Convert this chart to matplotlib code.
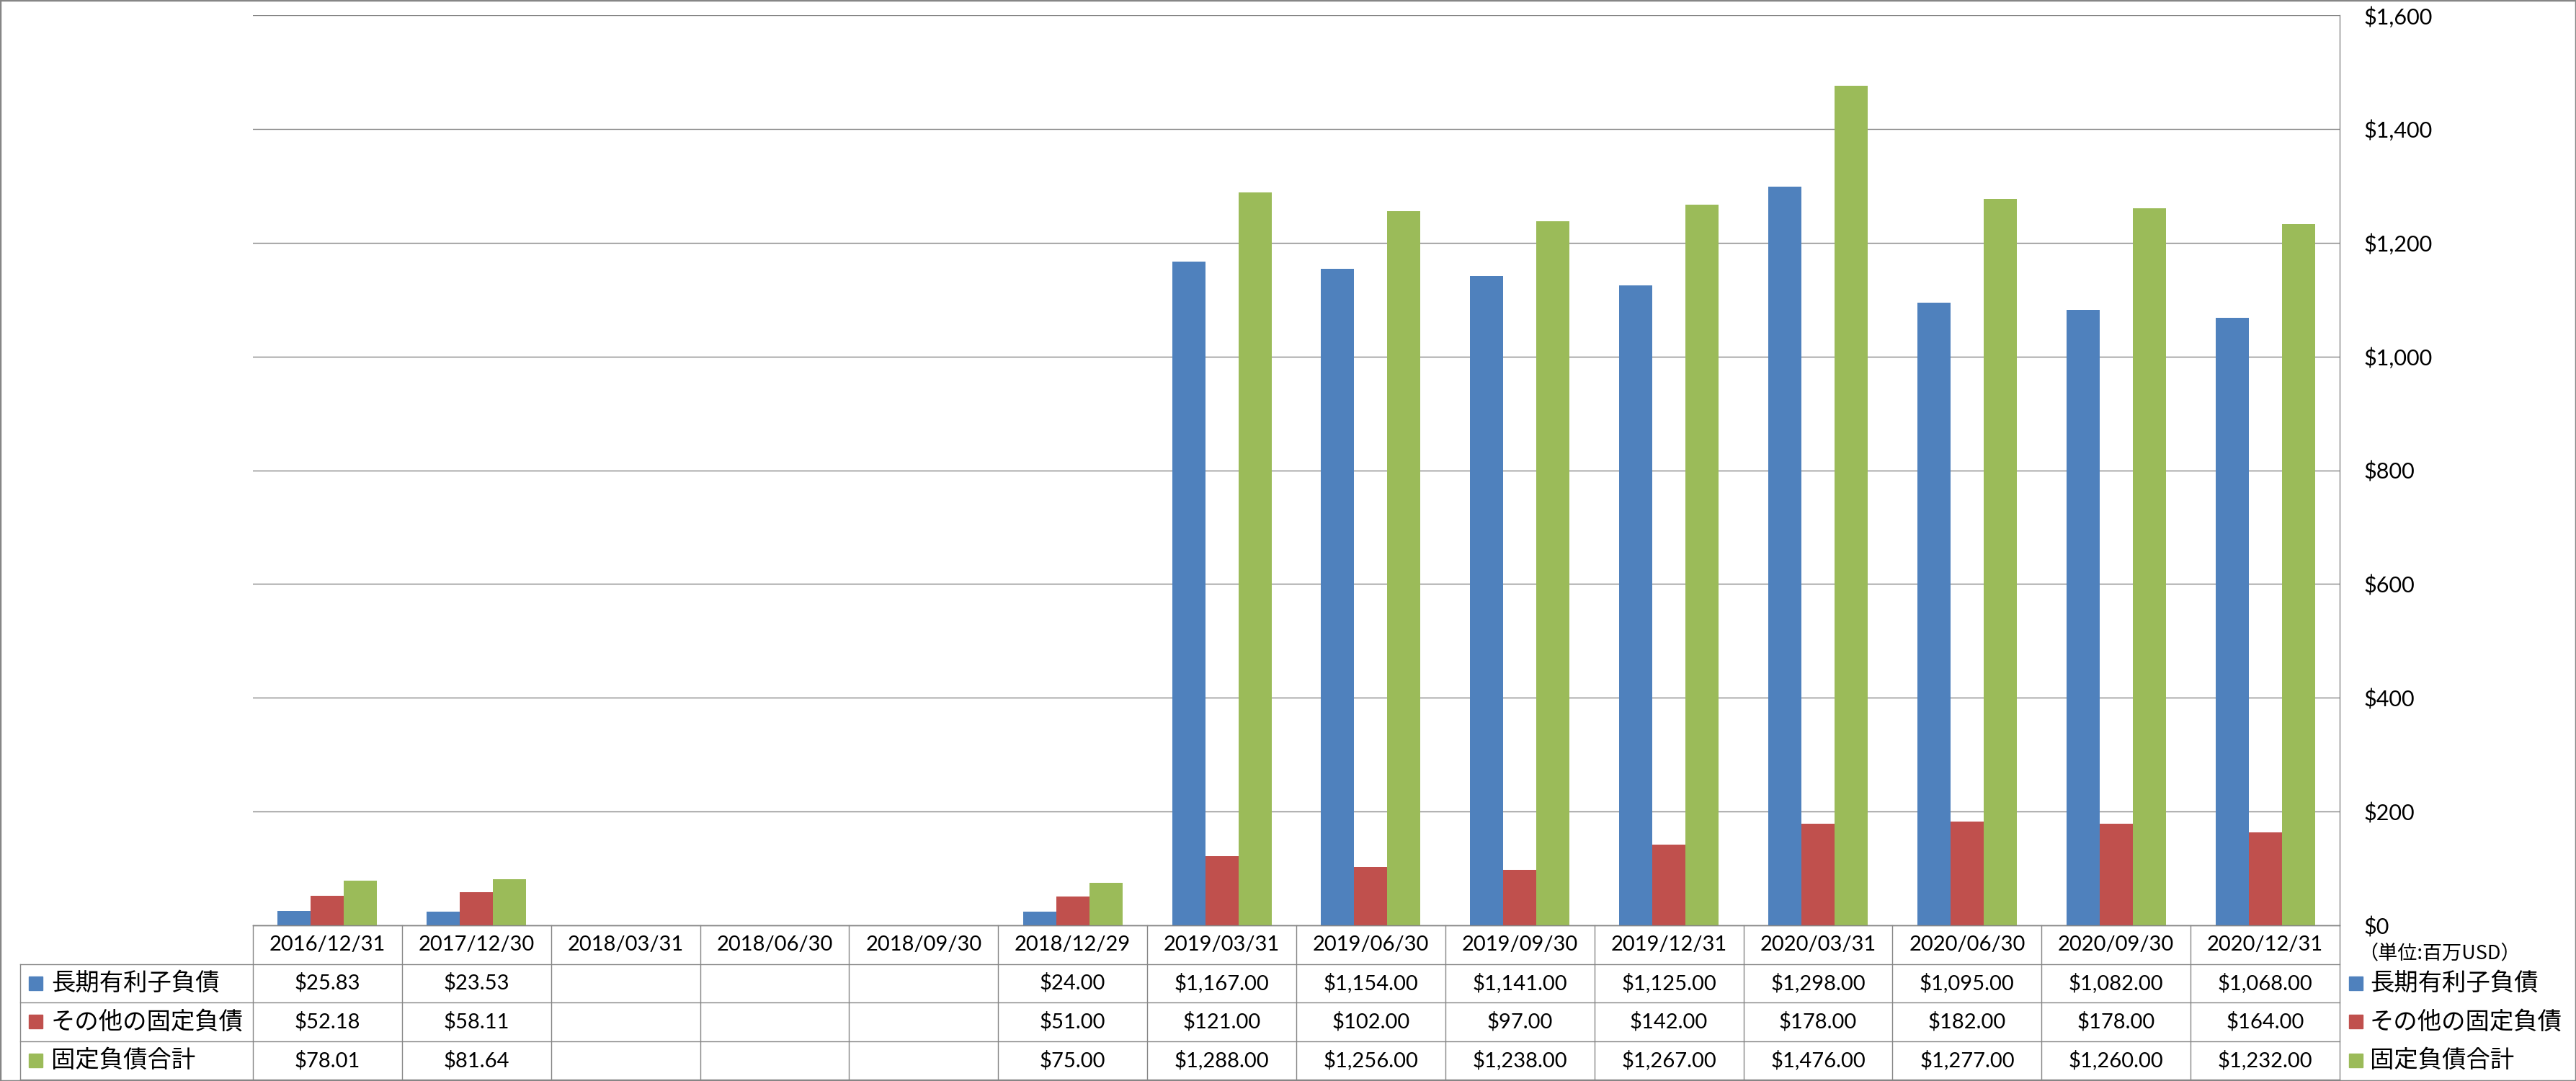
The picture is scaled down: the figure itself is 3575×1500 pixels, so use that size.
#!/usr/bin/env python3

import numpy as np
import matplotlib
matplotlib.use('Agg')
import matplotlib.pyplot as plt
from matplotlib.patches import Rectangle

dates = ['2016/12/31', '2017/12/30', '2018/03/31', '2018/06/30', '2018/09/30',
         '2018/12/29', '2019/03/31', '2019/06/30', '2019/09/30', '2019/12/31',
         '2020/03/31', '2020/06/30', '2020/09/30', '2020/12/31']
nan = np.nan
long_debt = [25.83, 23.53, nan, nan, nan, 24.00, 1167.00, 1154.00, 1141.00,
             1125.00, 1298.00, 1095.00, 1082.00, 1068.00]
other_fixed = [52.18, 58.11, nan, nan, nan, 51.00, 121.00, 102.00, 97.00,
               142.00, 178.00, 182.00, 178.00, 164.00]
total_fixed = [78.01, 81.64, nan, nan, nan, 75.00, 1288.00, 1256.00, 1238.00,
               1267.00, 1476.00, 1277.00, 1260.00, 1232.00]
series_names = ['長期有利子負債', 'その他の固定負債', '固定負債合計']
colors = ['#4F81BD', '#C0504D', '#9BBB59']
yticks = [0, 200, 400, 600, 800, 1000, 1200, 1400, 1600]
unit_label = '（単位:百万USD）'

W, H = 3575, 1500
GRID = '#868686'
JP = ['Noto Sans CJK JP', 'DejaVu Sans']
NUM = ['Lato', 'DejaVu Sans']

fig = plt.figure(figsize=(W / 100, H / 100), dpi=100)

# plot area in pixels
px_l, px_r, px_t, px_b = 351, 3247, 21, 1284
tab_l, tab_b = 28, 1498
ax = fig.add_axes([px_l / W, 1 - px_b / H, (px_r - px_l) / W, (px_b - px_t) / H])

series = [long_debt, other_fixed, total_fixed]
n = len(dates)
x = np.arange(n)
bw = 0.2225
for k, vals in enumerate(series):
    v = np.array(vals, dtype=float)
    m = ~np.isnan(v)
    ax.bar(x[m] + (k - 1) * bw, v[m], width=bw, color=colors[k], zorder=3)

ax.set_xlim(-0.5, n - 0.5)
ax.set_ylim(0, 1600)
ax.set_yticks(yticks)
ax.yaxis.tick_right()
ax.set_yticklabels([f'${t:,.0f}' for t in yticks], fontfamily=NUM, fontsize=22)
ax.tick_params(axis='y', length=0, pad=24)
ax.set_xticks([])
ax.grid(axis='y', color=GRID, linewidth=1.0, zorder=0)
for s in ['top', 'left']:
    ax.spines[s].set_visible(False)
for s in ['right', 'bottom']:
    ax.spines[s].set_color(GRID)
    ax.spines[s].set_linewidth(1.0)

# data table
lw = (px_l - tab_l) / ((px_r - px_l) / n)
tax = fig.add_axes([tab_l / W, 1 - tab_b / H, (px_r - tab_l) / W, (tab_b - px_b) / H])
tax.set_xlim(-0.5 - lw, n - 0.5)
tax.set_ylim(4, 0)
tax.axis('off')

lkw = dict(color=GRID, linewidth=1.0, clip_on=False)
tax.plot([-0.5, n - 0.5], [0, 0], **lkw)
for r in [1, 2, 3, 4]:
    tax.plot([-0.5 - lw, n - 0.5], [r, r], **lkw)
tax.plot([-0.5 - lw, -0.5 - lw], [1, 4], **lkw)
for i in range(n + 1):
    tax.plot([i - 0.5, i - 0.5], [0, 4], **lkw)

for i, d in enumerate(dates):
    tax.text(i, 0.5, d, ha='center', va='center', fontsize=21, fontfamily=NUM)

sq_w = 0.092
sq_h = 0.355
for k, vals in enumerate(series):
    row = k + 1.5
    for i, v in enumerate(vals):
        if not np.isnan(v):
            tax.text(i, row, f'${v:,.2f}', ha='center', va='center',
                     fontsize=21, fontfamily=NUM)
    # row header
    x0 = -0.5 - lw + 0.058
    tax.add_patch(Rectangle((x0, row - sq_h / 2), sq_w, sq_h, color=colors[k], clip_on=False))
    tax.text(x0 + 0.15, row, series_names[k], ha='left', va='center',
             fontsize=24, fontfamily=JP)
    # legend on right
    lx = n - 0.5 + 0.063
    tax.add_patch(Rectangle((lx, row - sq_h / 2), sq_w, sq_h, color=colors[k], clip_on=False))
    tax.text(lx + 0.14, row, series_names[k], ha='left', va='center',
             fontsize=24, fontfamily=JP, clip_on=False)

tax.text(n - 0.5 + 0.126, 0.73, unit_label, ha='left', va='center',
         fontsize=19.5, fontfamily=JP, clip_on=False)

fig.add_artist(Rectangle((0, 0), 1, 1, transform=fig.transFigure, fill=False,
                         edgecolor=GRID, linewidth=2.5))

fig.savefig('out.png', dpi=100)
